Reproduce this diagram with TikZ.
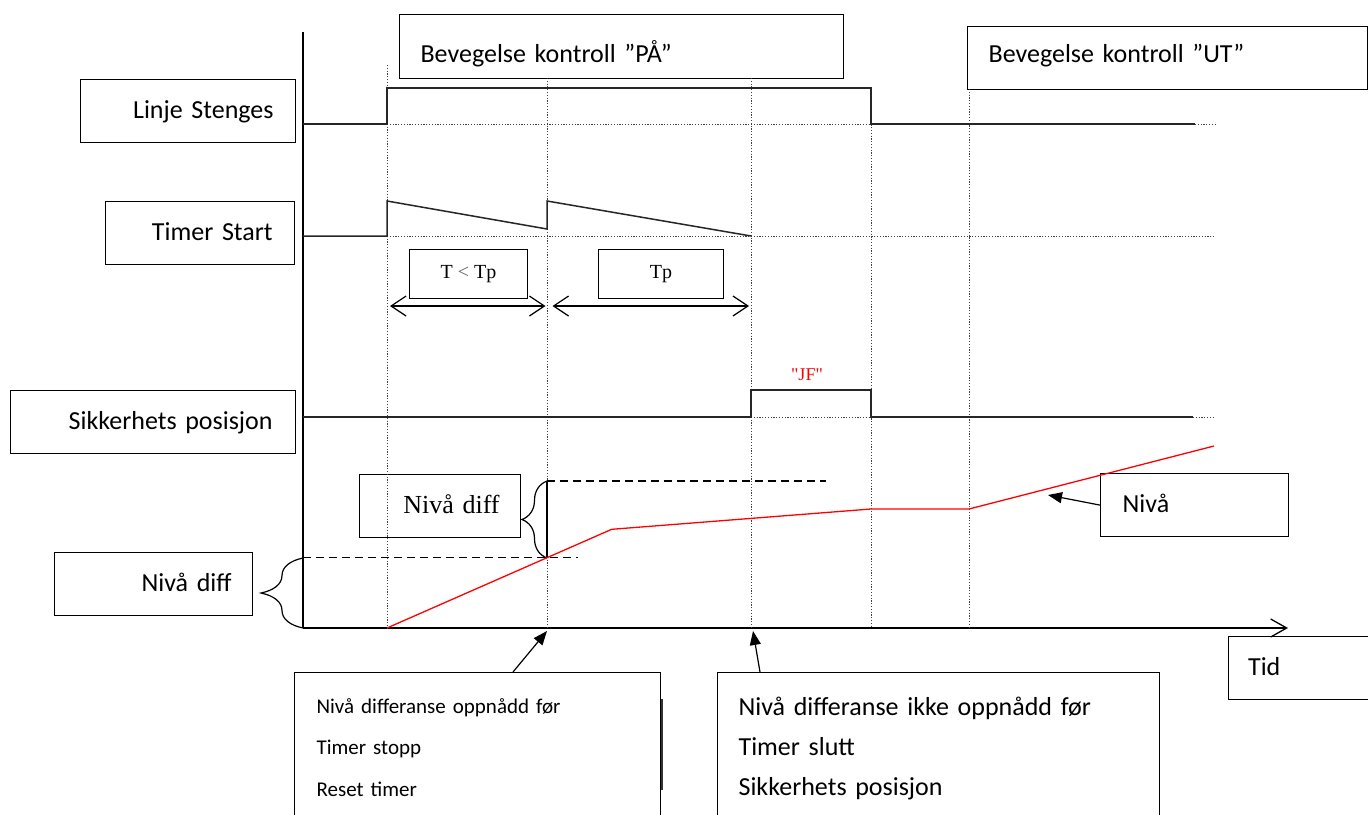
\documentclass[tikz,border=0pt]{standalone}
\usepackage{fontspec}
\setmainfont{Carlito}
\newfontfamily\seriffont{Liberation Serif}
\usetikzlibrary{arrows.meta,decorations.pathreplacing,calc}
\begin{document}
\begin{tikzpicture}[x=1pt,y=-1pt,
  box/.style={draw, line width=1.2pt, inner ysep=0pt, minimum height=63pt, anchor=north west, text height=20pt, text depth=6pt, font=\fontsize{26}{31}\selectfont},
  rbox/.style={box, align=right},
  lbox/.style={box, align=left},
  mbox/.style={draw, line width=1.2pt, anchor=north west, inner ysep=0pt, align=left},
  sbox/.style={draw, line width=1.2pt, anchor=north west, minimum height=49pt, inner sep=0pt, font=\seriffont\fontsize{20}{24}\selectfont},
  sig/.style={line width=1.5pt, black!85},
  dots/.style={line width=0.9pt, black!75, dash pattern=on 1.2pt off 1.6pt},
  dsh/.style={line width=1.3pt, dash pattern=on 8pt off 5pt},
  lvl/.style={line width=1.3pt, red},
  callout/.style={line width=1.2pt, -{Triangle[length=14pt,width=11pt]}},
  span/.style={line width=1.2pt, {Straight Barb[length=15pt,width=20pt]}-{Straight Barb[length=15pt,width=20pt]}},
]
\useasboundingbox (0,0) rectangle (1368,814);

% label boxes
\node[lbox, minimum width=444, minimum height=64, inner xsep=21, text width=402, text height=37pt] (pa) at (399,14) {Bevegelse kontroll ”PÅ”};
\node[lbox, minimum width=400, inner xsep=21, text width=358, text depth=11pt] (ut) at (967,26) {Bevegelse kontroll ”UT”};
\node[rbox, minimum width=215, inner xsep=22, text width=171] (ls) at (80,79) {Linje Stenges};
\node[rbox, minimum width=189, inner xsep=22, text width=145] (ts) at (105,201) {Timer Start};
\node[rbox, minimum width=285, inner xsep=23, text width=239] (sp) at (10,390) {Sikkerhets posisjon};
\node[rbox, minimum width=198, inner xsep=21, text width=156] (nd1) at (54,552) {Nivå diff};
\node[rbox, minimum width=161.5, inner xsep=21, text width=119.5, font=\seriffont\fontsize{26}{31}\selectfont] (nd2) at (358.5,474) {Nivå diff};
\node[lbox, minimum width=188, inner xsep=22, text width=144] (niva) at (1100,473) {Nivå};
\node[lbox, minimum width=152, inner xsep=19.5, text width=113] (tid) at (1228,636) {Tid};

\node[mbox, minimum width=366, minimum height=150, inner xsep=22, text width=322, font=\fontsize{21}{41.5}\selectfont] (lb) at (294,672) {Nivå differanse oppnådd før\\Timer stopp\\Reset timer};
\node[mbox, minimum width=442, minimum height=152, inner xsep=21, text width=400, font=\fontsize{26}{40}\selectfont] (rb) at (717,672) {Nivå differanse ikke oppnådd før\\Timer slutt\\Sikkerhets posisjon};
\draw[line width=1.5pt, black!80] (662,699) -- (662,790);

\node[sbox, minimum width=118] (tlt) at (409,249) {T {\color{black!60}<} Tp};
\node[sbox, minimum width=125] (tp) at (598,249) {Tp};
\node[text=red, font=\seriffont\fontsize{18}{22}\selectfont] (jf) at (807,375) {"JF"};

% axes
\coordinate (o) at (303,628);
\coordinate (ytop) at (303,32);
\coordinate (xend) at (1288,628);
\draw[line width=1.3pt] (ytop) -- (o);
\draw[line width=1.3pt, -{Straight Barb[length=16pt,width=18pt]}] (o) -- (xend);

% dotted verticals
\foreach \x/\y in {387/65,547/78,751/78,871/88,969/89}
  \draw[dots] (\x,\y) -- (\x,628);

% Linje Stenges signal
\draw[dots] (387,124) -- (871,124);
\draw[sig] (303,124) -- (387,124) -- (387,88) -- (871,88) -- (871,124) -- (1195,124);
\draw[dots] (1195,124) -- (1215,124);

% Timer Start signal
\draw[dots] (387,236) -- (1215,236);
\draw[sig] (303,236) -- (387,236) -- (387,201) -- (547,229) -- (547,201) -- (751,236);

% Sikkerhets posisjon signal
\draw[dots] (751,417) -- (871,417);
\draw[sig] (303,417) -- (751,417) -- (751,390) -- (871,390) -- (871,417) -- (1193,417);
\draw[dots] (1193,417) -- (1213,417);

% spans
\draw[span] (390,306) -- (545.5,306);
\draw[span] (552.5,306) -- (749,306);

% level
\draw[dsh] (303,557.7) -- (578,557.7);
\draw[dsh] (547,481) -- (826,481);
\draw[line width=1.3pt] (547,481) -- (547,558);
\draw[line width=1.2pt, decorate, decoration={brace, amplitude=42pt}] (303,628) -- (303,558);
\draw[line width=1.2pt, decorate, decoration={brace, amplitude=25pt}] (547,558) -- (547,481);
\draw[lvl] (387,628) -- (547,557.7) -- (611.7,529.3) -- (871,509) -- (969,509) -- (1214,446);

% callouts
\coordinate (c1) at (547,631);
\coordinate (c2) at (753,631);
\coordinate (c3) at (1048,495);
\draw[callout] ($(lb.north west)+(219,0)$) -- (c1);
\draw[callout] ($(rb.north west)+(43,0)$) -- (c2);
\draw[callout] (niva.west) -- (c3);
\end{tikzpicture}
\end{document}
